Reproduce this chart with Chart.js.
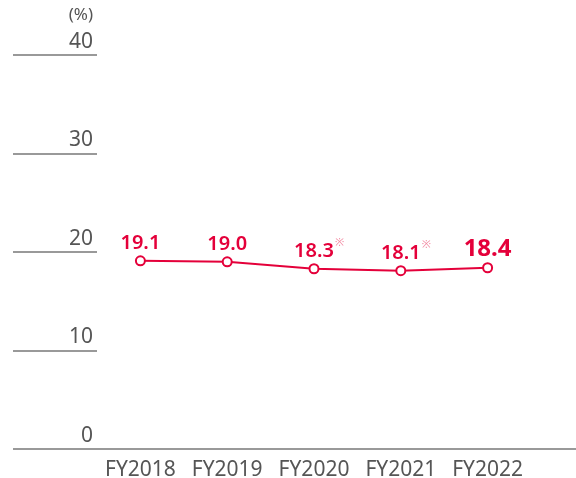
<!DOCTYPE html>
<html>
<head>
<meta charset="utf-8">
<script src="https://cdn.jsdelivr.net/npm/chart.js@4.4.0/dist/chart.umd.min.js"></script>
<style>
    body { margin: 0; background: #fff; }
    #wrap { width: 576px; height: 478px; }
</style>
</head>
<body>
<div id="wrap">
    <canvas id="ratioChart" width="576" height="478"></canvas>
</div>
<script>
    // 年度と値
    const years = ['FY2018', 'FY2019', 'FY2020', 'FY2021', 'FY2022']
    const ratio = [19.1, 19.0, 18.3, 18.1, 18.4]
    const marks = ['', '', '※', '※', '']
    const yMin = 0
    const yMax = 40
    const yStep = 10
    const unitLabel = '(%)'

    const red = '#e4003a'
    const gray = '#999999'
    const textGray = '#555555'
    const fontFamily = '"Noto Sans", "Open Sans", sans-serif'

    const labelPlugin = {
        id: 'labelPlugin',
        afterDraw(chart) {
            const ctx = chart.ctx
            const area = chart.chartArea
            const yScale = chart.scales.y
            const y0 = yScale.getPixelForValue(yMin)

            // 下の線を右端まで伸ばす
            ctx.save()
            ctx.strokeStyle = gray
            ctx.lineWidth = 2
            ctx.beginPath()
            ctx.moveTo(area.left, y0)
            ctx.lineTo(chart.width, y0)
            ctx.stroke()

            // 単位
            ctx.fillStyle = textGray
            ctx.font = '17px ' + fontFamily
            ctx.textAlign = 'right'
            ctx.textBaseline = 'middle'
            ctx.fillText(unitLabel, yScale.right - 4, yScale.getPixelForValue(yMax) - 40)

            // 値ラベル
            const meta = chart.getDatasetMeta(0)
            meta.data.forEach((pt, i) => {
                const last = i === ratio.length - 1
                const txt = ratio[i].toFixed(1)
                ctx.font = (last ? 'bold 24px ' : '600 20px ') + fontFamily
                ctx.fillStyle = red
                ctx.textAlign = 'center'
                ctx.textBaseline = 'alphabetic'
                ctx.fillText(txt, pt.x, pt.y - 12)
                if (marks[i]) {
                    const w = ctx.measureText(txt).width
                    ctx.font = '11px ' + fontFamily
                    ctx.fillStyle = '#f28ba3'
                    ctx.textAlign = 'left'
                    ctx.fillText(marks[i], pt.x + w / 2 + 1, pt.y - 23)
                }
            })
            ctx.restore()
        }
    }

    new Chart(document.getElementById('ratioChart'), {
        type: 'line',
        data: {
            labels: years,
            datasets: [{
                data: ratio,
                borderColor: red,
                borderWidth: 2,
                pointBackgroundColor: '#fff',
                pointBorderColor: red,
                pointBorderWidth: 2,
                pointRadius: 4.5,
                tension: 0
            }]
        },
        options: {
            responsive: false,
            animation: false,
            layout: { padding: { left: 13, right: 45, top: 55, bottom: 0 } },
            plugins: {
                legend: { display: false },
                tooltip: { enabled: false }
            },
            scales: {
                x: {
                    offset: true,
                    afterFit: s => { s.height = 29 },
                    grid: { display: false, drawTicks: false },
                    border: { display: false },
                    ticks: {
                        color: textGray,
                        padding: 8,
                        font: { family: fontFamily, size: 21 }
                    }
                },
                y: {
                    min: yMin,
                    max: yMax,
                    afterFit: s => { s.width = 84 },
                    border: { display: false },
                    grid: {
                        drawOnChartArea: false,
                        drawTicks: true,
                        tickLength: 84,
                        color: gray,
                        lineWidth: 2
                    },
                    ticks: {
                        stepSize: yStep,
                        padding: -80,
                        labelOffset: -13,
                        color: textGray,
                        font: { family: fontFamily, size: 21 }
                    }
                }
            }
        },
        plugins: [labelPlugin]
    })
</script>
</body>
</html>
